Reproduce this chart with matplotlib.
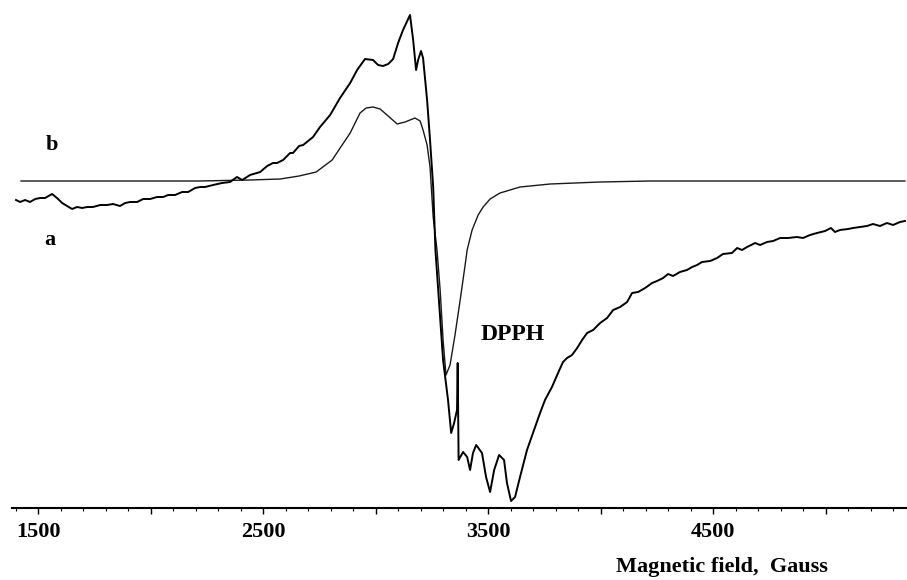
"""EPR spectrum: experimental trace (a) and simulation (b), with DPPH marker."""

import matplotlib

matplotlib.use("Agg")
import matplotlib.pyplot as plt
from matplotlib.ticker import FixedLocator, MultipleLocator

plt.rcParams["font.family"] = ["Liberation Serif", "DejaVu Serif"]
plt.rcParams["font.weight"] = "bold"

# experimental spectrum (a): field in gauss, signal in arbitrary units
field_a = [
    1402, 1420, 1442, 1464, 1487, 1509, 1531, 1562, 1584, 1607, 1629, 1651,
    1673, 1696, 1718, 1744, 1776, 1807, 1833, 1864, 1887, 1909, 1940, 1967,
    1998, 2029, 2056, 2078, 2109, 2140, 2167, 2198, 2220, 2242, 2278, 2318,
    2353, 2384, 2407, 2442, 2487, 2518, 2544, 2562, 2589, 2620, 2633, 2660,
    2678, 2722, 2753, 2798, 2842, 2887, 2918, 2953, 2989, 3011, 3033, 3056,
    3078, 3100, 3122, 3153, 3167, 3180, 3189, 3202, 3211, 3229, 3242, 3256,
    3266, 3287, 3300, 3322, 3336, 3349, 3362, 3365, 3369, 3389, 3407, 3420,
    3433, 3447, 3473, 3491, 3509, 3527, 3549, 3571, 3584, 3602, 3620, 3642,
    3673, 3709, 3731, 3753, 3784, 3811, 3833, 3851, 3873, 3896, 3918, 3940,
    3967, 3998, 4029, 4056, 4087, 4118, 4140, 4167, 4198, 4229, 4251, 4278,
    4300, 4322, 4353, 4384, 4407, 4429, 4451, 4487, 4518, 4544, 4584, 4607,
    4629, 4651, 4687, 4709, 4740, 4767, 4798, 4833, 4873, 4900, 4931, 4962,
    4998, 5024, 5042, 5064, 5100, 5122, 5153, 5184, 5211, 5242, 5273, 5300,
    5331, 5353,
]
signal_a = [
    -19, -21, -19, -21, -18, -17, -17, -13, -17, -22, -25, -28,
    -26, -27, -26, -26, -24, -24, -23, -25, -22, -21, -21, -18,
    -18, -16, -16, -14, -14, -11, -11, -7, -6, -6, -4, -2,
    -1, 4, 1, 6, 9, 15, 18, 18, 21, 28, 28, 35,
    36, 44, 54, 66, 83, 98, 111, 122, 121, 116, 115, 117,
    122, 138, 151, 166, 141, 111, 121, 130, 123, 81, 41, -6,
    -69, -136, -179, -219, -252, -242, -229, -182, -279, -271, -276, -289,
    -272, -264, -272, -296, -311, -289, -274, -279, -302, -320, -316, -296,
    -269, -246, -232, -219, -206, -192, -181, -177, -174, -167, -159, -152,
    -149, -142, -137, -129, -126, -121, -112, -111, -107, -102, -100, -97,
    -93, -95, -91, -89, -86, -84, -81, -80, -77, -73, -72, -67,
    -69, -66, -62, -64, -61, -60, -57, -57, -56, -57, -54, -52,
    -50, -47, -51, -49, -48, -47, -46, -45, -43, -45, -42, -44,
    -41, -40,
]

# simulated spectrum (b)
field_b = [
    1424, 2220, 2442, 2576, 2660, 2736, 2807, 2887, 2931, 2958, 2989, 3020,
    3056, 3096, 3131, 3175, 3198, 3211, 3229, 3242, 3256, 3273, 3287, 3300,
    3313, 3331, 3353, 3376, 3398, 3407, 3429, 3456, 3478, 3509, 3553, 3642,
    3776, 3998, 4220, 5353,
]
signal_b = [
    0, 0, 1, 2, 5, 9, 21, 48, 68, 73, 74, 72,
    65, 57, 59, 63, 60, 51, 36, 14, -36, -69, -109, -159,
    -194, -184, -154, -119, -84, -69, -49, -34, -26, -18, -12, -6,
    -3, -1, 0, 0,
]

tick_values = [1500, 2000, 2500, 3000, 3500, 4000, 4500, 5000]
tick_labels = ["1500", "", "2500", "", "3500", "", "4500", ""]

fig = plt.figure(figsize=(9.07, 5.80), dpi=100)
ax = fig.add_axes([12 / 907, 72 / 580, 895 / 907, 508 / 580])

ax.plot(field_b, signal_b, color="#1a1a1a", lw=1.0)
ax.plot(field_a, signal_a, color="black", lw=1.4)

ax.set_xlim(1384, 5362)
ax.set_ylim(-327, 181)

for side in ("left", "right", "top"):
    ax.spines[side].set_visible(False)
ax.spines["bottom"].set_linewidth(1.5)
ax.set_yticks([])

ax.xaxis.set_major_locator(FixedLocator(tick_values))
ax.set_xticklabels(tick_labels, fontsize=16, fontweight="bold")
ax.xaxis.set_minor_locator(MultipleLocator(100))
ax.tick_params(axis="x", which="major", direction="out", length=4, width=1.0, pad=6)
ax.tick_params(axis="x", which="minor", direction="out", length=2, width=0.8)

ax.text(1563, 36, "b", fontsize=16, fontweight="bold", ha="center", va="center")
ax.text(1550, -59, "a", fontsize=16, fontweight="bold", ha="center", va="center")
ax.text(3609, -154, "DPPH", fontsize=17, fontweight="bold", ha="center", va="center")

fig.text(722 / 907, 1 - 567 / 580, "Magnetic field,  Gauss", fontsize=16,
         fontweight="bold", ha="center", va="center")

fig.savefig("out.png", dpi=100)
